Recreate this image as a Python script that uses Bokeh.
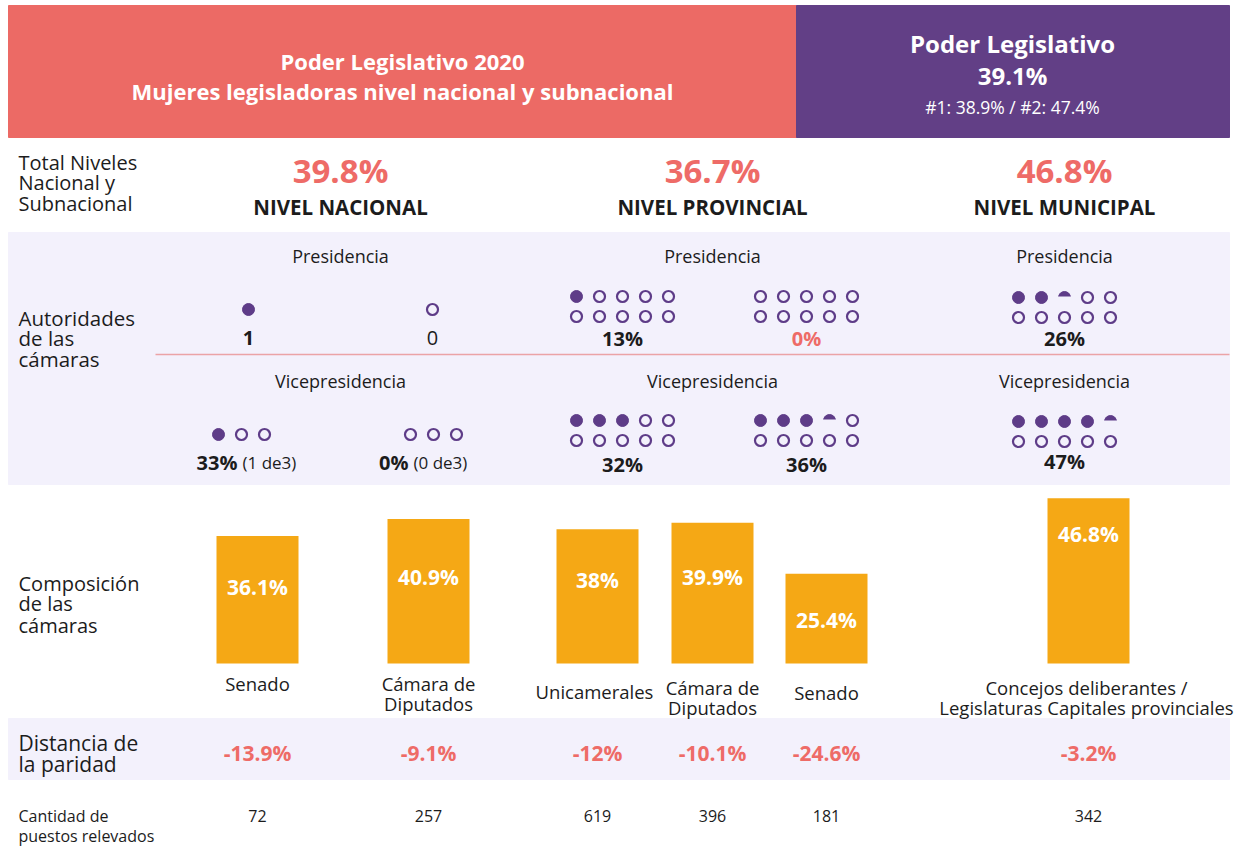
from bokeh.plotting import figure
from bokeh.models import Range1d, ColumnDataSource
from bokeh.core.properties import value
from bokeh.embed import file_html
from bokeh.resources import INLINE

# ---------------- data ----------------
title_lines = ["Poder Legislativo 2020", "Mujeres legisladoras nivel nacional y subnacional"]
summary_lines = ["Poder Legislativo", "39.1%", "#1: 38.9% / #2: 47.4%"]

levels = ["NIVEL NACIONAL", "NIVEL PROVINCIAL", "NIVEL MUNICIPAL"]
level_totals = ["39.8%", "36.7%", "46.8%"]

# national presidency / vice-presidency (counts)
nac_pres_filled = [1, 0]          # one seat per chamber
nac_pres_labels = ["1", "0"]
nac_vice_filled = [1, 0]          # of 3 seats
nac_vice_total = 3
nac_vice_pct = ["33%", "0%"]
nac_vice_detail = ["(1 de3)", "(0 de3)"]

# provincial / municipal presidencies as percentages (10-dot groups)
prov_pres_pct = [13, 0]
prov_vice_pct = [32, 36]
muni_pres_pct = [26]
muni_vice_pct = [47]

# composition of chambers
bar_cats = [["Senado"], ["Cámara de", "Diputados"], ["Unicamerales"],
            ["Cámara de", "Diputados"], ["Senado"],
            ["Concejos deliberantes /", "Legislaturas Capitales provinciales"]]
bar_vals = [36.1, 40.9, 38.0, 39.9, 25.4, 46.8]
bar_txt = ["36.1%", "40.9%", "38%", "39.9%", "25.4%", "46.8%"]
distancia = ["-13.9%", "-9.1%", "-12%", "-10.1%", "-24.6%", "-3.2%"]
cantidad = ["72", "257", "619", "396", "181", "342"]

# ---------------- style / layout ----------------
FONT = "Open Sans"
CORAL_BG = "#EC6A65"
PURPLE_BG = "#623F86"
LAV = "#F3F1FC"
CORAL = "#EE6B67"
DOT = "#5E3C88"
ORANGE = "#F5A815"
PINK = "#EBA3A6"
DARK = "#1c1c1c"

W, H = 1240, 846
p = figure(width=W, height=H, output_backend="svg", toolbar_location=None,
           x_range=Range1d(0, W), y_range=Range1d(H, 0),
           x_axis_type=None, y_axis_type=None, min_border=0,
           outline_line_color=None, background_fill_color="white")
p.xgrid.visible = False
p.ygrid.visible = False

BASE = 663.0      # pixel row of bar baseline
PXPCT = 3.53      # pixels per percentage point
p.extra_y_ranges = {"pct": Range1d(start=-(H - BASE) / PXPCT, end=BASE / PXPCT)}


def txt(xs, ys, ss, size, color=DARK, bold=False, align="center", **kw):
    p.text(x=xs, y=ys, text=ss, text_font=value(FONT), text_font_size=value(f"{size}px"),
           text_font_style="bold" if bold else "normal", text_color=color,
           text_align=align, text_baseline="middle", **kw)


# backgrounds
p.quad(left=[8], right=[796], top=[5], bottom=[137], color=CORAL_BG)
p.quad(left=[796], right=[1229], top=[5], bottom=[137], color=PURPLE_BG)
p.quad(left=[8, 8], right=[1229, 1229], top=[232, 718], bottom=[484, 779], color=LAV)
p.segment(x0=[155], y0=[354], x1=[1229], y1=[354], line_color=PINK, line_width=1.5)

# header
txt([402, 402], [60, 90], title_lines, 22, "white", True)
txt([1012], [43], [summary_lines[0]], 24, "white", True)
txt([1012], [75], [summary_lines[1]], 24, "white", True)
txt([1012], [106], [summary_lines[2]], 17.5, "white", False)

# totals row
LX = 18
txt([LX] * 3, [162, 182, 203], ["Total Niveles", "Nacional y", "Subnacional"], 20, align="left")
level_x = [340, 712, 1064]
txt(level_x, [170] * 3, level_totals, 33, CORAL, True)
txt(level_x, [206] * 3, levels, 20.5, DARK, True)

# autoridades
txt([LX] * 3, [317, 337, 358], ["Autoridades", "de las", "cámaras"], 20.5, align="left")
txt(level_x, [255] * 3, ["Presidencia"] * 3, 18)
txt(level_x, [380] * 3, ["Vicepresidencia"] * 3, 18)

DOT_SIZE = 12
GAP = 23


def dots(cx, cy, n, filled, cap=False):
    xs = [cx + (i - (n - 1) / 2) * GAP for i in range(n)]
    fx = xs[:filled]
    ex = xs[filled + (1 if cap else 0):]
    if fx:
        p.scatter(x=fx, y=[cy] * len(fx), marker="circle", size=DOT_SIZE,
                  fill_color=DOT, line_color=DOT, line_width=1)
    if ex:
        p.scatter(x=ex, y=[cy] * len(ex), marker="circle", size=DOT_SIZE - 1,
                  fill_color=None, line_color=DOT, line_width=2.2)
    if cap:
        x = xs[filled]
        p.scatter(x=[x], y=[cy], marker="circle", size=DOT_SIZE, fill_color=DOT, line_color=DOT)
        p.rect(x=[x], y=[cy + 4], width=16, height=10, fill_color=LAV, line_color=None)


def ten_dots(cx, top_y, pct):
    full = pct // 10
    cap = (pct % 10) >= 5
    r1 = min(full, 5)
    cap1 = cap and full < 5
    dots(cx, top_y, 5, r1, cap1)
    r2 = max(full - 5, 0)
    cap2 = cap and full >= 5
    dots(cx, top_y + 20, 5, r2, cap2)


# national presidency
nac_pres_x = [248, 432]
for x, f in zip(nac_pres_x, nac_pres_filled):
    dots(x, 309, 1, f)
txt([nac_pres_x[0]], [337], [nac_pres_labels[0]], 20, DARK, True)
txt([nac_pres_x[1]], [337], [nac_pres_labels[1]], 20, DARK, False)

# national vice
nac_vice_x = [241, 433]
for x, f in zip(nac_vice_x, nac_vice_filled):
    dots(x, 434, nac_vice_total, f)
txt([237, 408], [462, 462], nac_vice_pct, 20, DARK, True, align="right")
txt([242, 413], [462, 462], nac_vice_detail, 17, DARK, False, align="left")

# provincial
prov_x = [622, 806]
for x, v in zip(prov_x, prov_pres_pct):
    ten_dots(x, 296, v)
txt([prov_x[0]], [338], [f"{prov_pres_pct[0]}%"], 20, DARK, True)
txt([prov_x[1]], [338], [f"{prov_pres_pct[1]}%"], 20, CORAL, True)
for x, v in zip(prov_x, prov_vice_pct):
    ten_dots(x, 420, v)
txt(prov_x, [464, 464], [f"{v}%" for v in prov_vice_pct], 20, DARK, True)

# municipal
muni_x = [1064]
ten_dots(muni_x[0], 297, muni_pres_pct[0])
txt(muni_x, [338], [f"{muni_pres_pct[0]}%"], 20, DARK, True)
ten_dots(muni_x[0], 421, muni_vice_pct[0])
txt(muni_x, [461], [f"{muni_vice_pct[0]}%"], 20, DARK, True)

# composition bars
bar_x = [257, 428, 597, 712, 826, 1088]
src = ColumnDataSource(dict(x=bar_x, top=bar_vals, lab=bar_txt))
p.vbar(x="x", top="top", bottom=0, width=82, source=src, y_range_name="pct",
       fill_color=ORANGE, line_color=None)
label_offsets = [51, 58, 51, 54, 46, 36]
for x, v, t, off in zip(bar_x, bar_vals, bar_txt, label_offsets):
    txt([x], [v], [t], 21, "white", True, y_range_name="pct", y_offset=off)

txt([LX] * 3, [583, 603, 625], ["Composición", "de las", "cámaras"], 20, align="left")
cat_y = [[683], [683, 703], [691], [687, 707], [692], [687, 707]]
cat_x = [257, 428, 594, 712, 826, 1086]
for x, lines, ys in zip(cat_x, bar_cats, cat_y):
    txt([x] * len(lines), ys, lines, 18.5)

# distancia
txt([LX, LX], [742, 763], ["Distancia de", "la paridad"], 21, align="left")
txt(bar_x, [752] * 6, distancia, 21, CORAL, True)

# cantidad
txt([LX, LX], [815, 835], ["Cantidad de", "puestos relevados"], 16, align="left")
txt(bar_x, [815] * 6, cantidad, 16)

open("out.html", "w").write(file_html(p, INLINE))
